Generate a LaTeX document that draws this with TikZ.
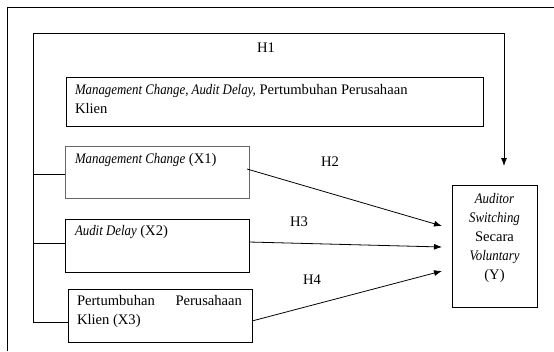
\documentclass[tikz,border=0pt]{standalone}
\usepackage{fontspec}
\setmainfont[ItalicFeatures={FakeStretch=0.88}]{Liberation Serif}
\usetikzlibrary{arrows.meta}
\tikzset{
  box/.style={draw=black, line width=0.8pt, inner sep=0pt, outer sep=0pt},
  txt/.style={inner sep=0pt, outer sep=0pt, font=\fontsize{14.6}{19}\selectfont},
  conn/.style={draw=black, line width=0.8pt},
  arr/.style={conn, -{Latex[length=8pt,width=6pt]}},
}
\begin{document}
\begin{tikzpicture}[x=1pt,y=-1pt]
\useasboundingbox (0,0) rectangle (554,351);
% page frame
\draw[line width=0.8pt] (7,351) -- (7,7) -- (554,7);
% boxes
\node[box, minimum width=417pt, minimum height=49pt] (all) at (274.5,101.5) {};
\node[box, draw=gray!80!black, minimum width=184pt, minimum height=52pt] (x1) at (157,172) {};
\node[box, minimum width=184pt, minimum height=53pt] (x2) at (157,245.5) {};
\node[box, minimum width=184pt, minimum height=53pt] (x3) at (160,315.5) {};
\node[box, minimum width=85pt, minimum height=122pt] (y) at (494.5,246) {};
% texts
\node[txt, anchor=north west, align=left] (tall) at (75,84)
  {\textit{Management Change, Audit Delay,} Pertumbuhan Perusahaan\\Klien};
\node[txt, anchor=west] (tx1) at (75,160) {\textit{Management Change} (X1)};
\node[txt, anchor=west] (tx2) at (75,232) {\textit{Audit Delay} (X2)};
\node[txt, anchor=north west, align=left] (tx3) at (77,295)
  {\hbox to 165pt{Pertumbuhan\hfill Perusahaan}\\Klien (X3)};
\node[txt, align=center] (ty) at (494.5,238)
  {\textit{Auditor}\\\textit{Switching}\\Secara\\\textit{Voluntary}\\(Y)};
% H labels
\node[txt] (h1) at (266,48) {H1};
\node[txt] (h2) at (330,162) {H2};
\node[txt] (h3) at (299,222) {H3};
\node[txt] (h4) at (312,280) {H4};
% coordinates
\coordinate (bus) at (33,33);
\coordinate (busend) at (33,322);
\coordinate (corner) at (504,33);
\coordinate (ytop) at (504,166);
\coordinate (b1) at (33,174);
\coordinate (b2) at (33,243);
\coordinate (s1) at (247,169);
\coordinate (s2) at (249,242);
\coordinate (s3) at (252,321);
\coordinate (e1) at (442,226);
\coordinate (e2) at (442,247);
\coordinate (e3) at (442,271);
% H1 loop
\draw[conn] (busend) -- (bus) -- (corner);
\draw[arr] (corner) -- (ytop);
% branches
\draw[conn] (b1) -- (b1 -| x1.west);
\draw[conn] (b2) -- (b2 -| x2.west);
\draw[conn] (busend) -- (busend -| x3.west);
% hypothesis arrows
\draw[arr] (s1) -- (e1);
\draw[arr] (s2) -- (e2);
\draw[arr] (s3) -- (e3);
\end{tikzpicture}
\end{document}
